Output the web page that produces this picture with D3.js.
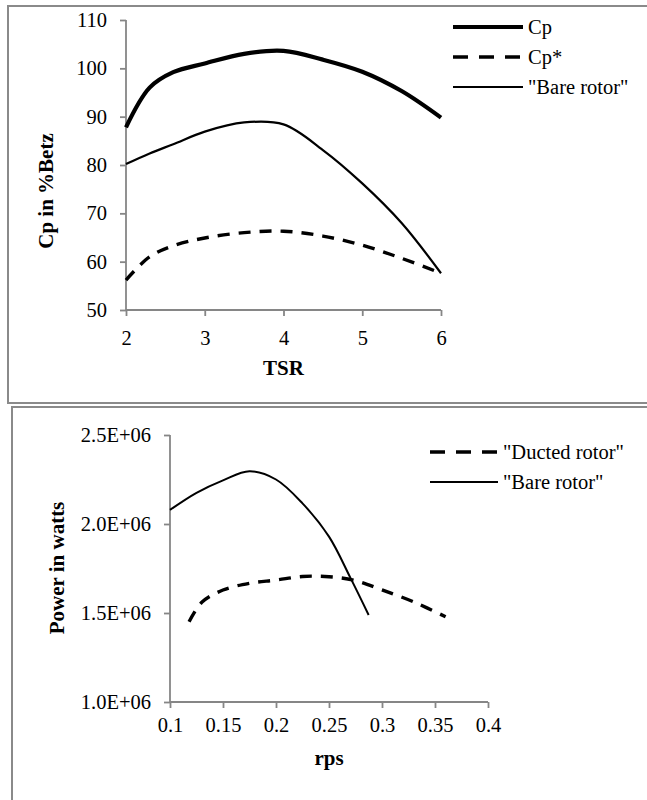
<!DOCTYPE html>
<html>
<head>
<meta charset="utf-8">
<script src="https://cdn.jsdelivr.net/npm/d3@7"></script>
<style>
  body { margin: 0; background: #fff; }
  svg { display: block; }
  svg text { font-family: 'Liberation Serif', 'Times New Roman', 'DejaVu Serif', serif !important; fill: #000; }
</style>
</head>
<body>
<svg id="chart" width="647" height="800"></svg>
<script>

// top chart: Cp vs TSR
let tsr = [2, 2.3, 2.6, 3, 3.5, 4, 4.5, 5, 5.5, 6];
let cp = [87.8, 96.0, 99.2, 101.0, 103.0, 103.6, 101.8, 99.3, 95.3, 89.8];
let cpStar = [56.2, 61.0, 63.3, 64.9, 66.0, 66.3, 65.3, 63.4, 60.7, 57.6];
let bareCp = [80.2, 82.4, 84.3, 86.9, 88.8, 88.4, 83.1, 76.2, 68.0, 57.6];
let tsrTicks = [2, 3, 4, 5, 6];
let cpTicks = [50, 60, 70, 80, 90, 100, 110];

// bottom chart: power vs rps
let rpsDucted = [0.118, 0.13, 0.15, 0.175, 0.2, 0.225, 0.25, 0.275, 0.3, 0.33, 0.36];
let powerDucted = [1.451e6, 1.56e6, 1.629e6, 1.667e6, 1.685e6, 1.705e6, 1.704e6, 1.682e6, 1.63e6, 1.562e6, 1.479e6];
let rpsBare = [0.1, 0.125, 0.15, 0.175, 0.2, 0.225, 0.25, 0.27, 0.2874];
let powerBare = [2.079e6, 2.175e6, 2.245e6, 2.296e6, 2.25e6, 2.116e6, 1.929e6, 1.70e6, 1.489e6];
let rpsTicks = [0.1, 0.15, 0.2, 0.25, 0.3, 0.35, 0.4];
let powerTicks = [1.0e6, 1.5e6, 2.0e6, 2.5e6];

let Axis = { color: '#868686', width: 1.8 };
let Dash = '12,9';
let Font = "'Liberation Serif', 'Times New Roman', serif";

let svg = d3.select('#chart');

// panel borders
svg.append('rect')
    .attr('x', 8).attr('y', 6).attr('width', 660).attr('height', 397)
    .attr('fill', 'none').attr('stroke', '#8a8a8a').attr('stroke-width', 2);
svg.append('rect')
    .attr('x', 12).attr('y', 407).attr('width', 660).attr('height', 420)
    .attr('fill', 'none').attr('stroke', '#8a8a8a').attr('stroke-width', 2);

function expFormat(d) {
    let [m, e] = d.toExponential(1).toUpperCase().split('E');
    return m + 'E' + e[0] + e.slice(1).padStart(2, '0');
}

function drawPanel(opts) {
    let g = svg.append('g');
    let x = d3.scaleLinear().domain(opts.xDomain).range(opts.xRange);
    let y = d3.scaleLinear().domain(opts.yDomain).range(opts.yRange);

    let xAxis = g.append('g')
        .attr('transform', `translate(0,${opts.yRange[0]})`)
        .call(d3.axisBottom(x).tickValues(opts.xTicks).tickSize(6).tickPadding(opts.xPad).tickFormat(opts.xFormat));
    let yAxis = g.append('g')
        .attr('transform', `translate(${opts.xRange[0]},0)`)
        .call(d3.axisLeft(y).tickValues(opts.yTicks).tickSize(6).tickPadding(13).tickFormat(opts.yFormat));

    [xAxis, yAxis].forEach(a => {
        a.attr('font-family', null).attr('font-size', null);
        a.select('.domain').attr('stroke', Axis.color).attr('stroke-width', Axis.width);
        a.selectAll('.tick line').attr('stroke', Axis.color).attr('stroke-width', Axis.width);
        a.selectAll('.tick text')
            .style('font-family', Font)
            .style('font-size', '20.5px')
            .attr('fill', '#000');
    });
    // plain axis lines, no end caps
    xAxis.select('.domain').attr('d', `M${opts.xRange[0]},0H${opts.xRange[1]}`);
    yAxis.select('.domain').attr('d', `M0,${opts.yRange[0]}V${opts.yRange[1]}`);

    let line = d3.line()
        .x(d => x(d[0]))
        .y(d => y(d[1]))
        .curve(d3.curveCatmullRom.alpha(0.5));

    opts.series.forEach(s => {
        g.append('path')
            .datum(d3.zip(s.xs, s.ys))
            .attr('d', line)
            .attr('fill', 'none')
            .attr('stroke', '#000')
            .attr('stroke-width', s.width)
            .attr('stroke-dasharray', s.dash || null)
            .attr('stroke-linejoin', 'round');
    });

    // axis titles
    g.append('text')
        .attr('x', (opts.xRange[0] + opts.xRange[1]) / 2)
        .attr('y', opts.xTitleY)
        .attr('text-anchor', 'middle')
        .style('font-family', Font)
        .style('font-size', '21px')
        .style('font-weight', 'bold')
        .text(opts.xTitle);
    g.append('text')
        .attr('transform', `translate(${opts.yTitleX},${opts.yTitleMid}) rotate(-90)`)
        .attr('text-anchor', 'middle')
        .attr('dy', '0.35em')
        .style('font-family', Font)
        .style('font-size', '21px')
        .style('font-weight', 'bold')
        .text(opts.yTitle);

    // legend
    let leg = g.append('g');
    opts.series.forEach((s, i) => {
        let ly = opts.legend.y + i * opts.legend.step;
        leg.append('line')
            .attr('x1', opts.legend.x1).attr('x2', opts.legend.x2)
            .attr('y1', ly).attr('y2', ly)
            .attr('stroke', '#000')
            .attr('stroke-width', s.width)
            .attr('stroke-dasharray', s.dash ? '15,11' : null);
        leg.append('text')
            .attr('x', opts.legend.x2 + 5)
            .attr('y', ly)
            .attr('dy', '0.35em')
            .style('font-family', Font)
            .style('font-size', '20.5px')
            .text(s.name);
    });
}

drawPanel({
    xDomain: [2, 6], xRange: [126, 441],
    yDomain: [50, 110], yRange: [310, 20],
    xTicks: tsrTicks, yTicks: cpTicks, xPad: 14,
    xFormat: d3.format('d'), yFormat: d3.format('d'),
    xTitle: 'TSR', xTitleY: 375,
    yTitle: 'Cp in %Betz', yTitleX: 46, yTitleMid: 191,
    series: [
        { name: 'Cp', xs: tsr, ys: cp, width: 4.2 },
        { name: 'Cp*', xs: tsr, ys: cpStar, width: 3.4, dash: Dash },
        { name: '"Bare rotor"', xs: tsr, ys: bareCp, width: 2.2 }
    ],
    legend: { x1: 453, x2: 523, y: 27, step: 30 }
});

drawPanel({
    xDomain: [0.1, 0.4], xRange: [170, 488],
    yDomain: [1.0e6, 2.5e6], yRange: [702, 435],
    xTicks: rpsTicks, yTicks: powerTicks, xPad: 9,
    xFormat: d => String(+d.toFixed(2)), yFormat: expFormat,
    xTitle: 'rps', xTitleY: 765,
    yTitle: 'Power in watts', yTitleX: 57, yTitleMid: 568,
    series: [
        { name: '"Ducted rotor"', xs: rpsDucted, ys: powerDucted, width: 3.4, dash: Dash },
        { name: '"Bare rotor"', xs: rpsBare, ys: powerBare, width: 2.0 }
    ],
    legend: { x1: 430, x2: 498, y: 452, step: 30 }
});

</script>
</body>
</html>
